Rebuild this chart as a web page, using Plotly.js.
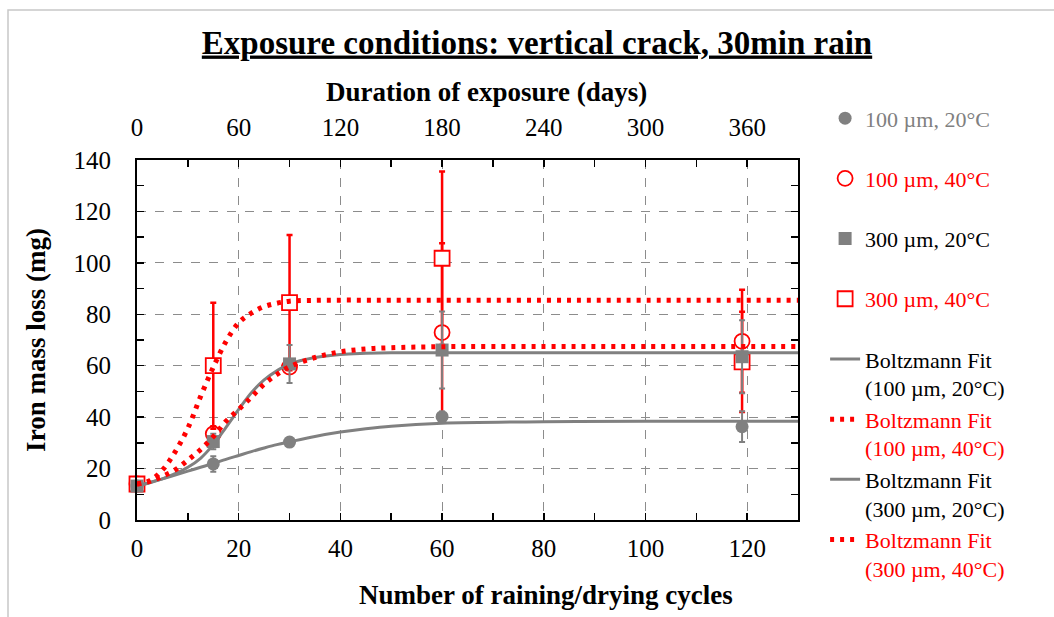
<!DOCTYPE html>
<html>
<head>
<meta charset="utf-8">
<script src="https://cdn.plot.ly/plotly-3.0.1.min.js"></script>
<style>html,body{margin:0;padding:0;background:#fff;}#chart{width:1054px;height:617px;}</style>
</head>
<body>
<div id="chart"></div>
<script>
// ---- data ----
const cycles = [0, 15, 30, 60, 119];
const DAYS_PER_CYCLE = 3;

const m100_20 = [13.2, 21.8, 30.3, 40.2, 36.3];
const e100_20 = [1.0, 3.0, 1.5, 2.0, 6.0];
const m100_40 = [14.0, 33.5, 59.5, 72.9, 69.5];
const e100_40 = [1.0, 3.0, 2.0, 34.7, 20.0];
const m300_20 = [13.2, 30.5, 60.7, 66.1, 63.5];
const e300_20 = [1.0, 3.0, 7.4, 15.0, 14.2];
const m300_40 = [14.0, 60.0, 84.5, 101.8, 61.5];
const e300_40 = [1.0, 24.5, 26.3, 33.7, 19.5];

// Boltzmann fit curves, values at these cycle numbers
const fitX      = [0, 2.5, 5, 7.5, 10, 12.5, 15, 17.5, 20, 22.5, 25, 27.5, 30, 35, 40, 45, 50, 60, 80, 100, 130];
const fit100_20 = [13.3, 14.6, 16.0, 17.5, 19.0, 20.5, 22.0, 23.6, 25.1, 26.6, 28.0, 29.3, 30.4, 32.5, 34.2, 35.5, 36.5, 37.6, 38.2, 38.4, 38.4];
const fit100_40 = [14.0, 15.0, 17.0, 19.5, 23.3, 27.4, 32.4, 38.4, 43.0, 47.8, 52.8, 56.6, 59.6, 63.2, 65.4, 66.5, 67.0, 67.4, 67.5, 67.5, 67.5];
const fit300_20 = [13.3, 14.5, 16.0, 18.0, 20.5, 24.0, 29.3, 36.0, 43.0, 49.5, 54.5, 58.0, 60.7, 63.2, 64.4, 64.8, 65.0, 65.0, 65.0, 65.0, 65.0];
const fit300_40 = [14.0, 15.3, 19.4, 26.5, 35.7, 48.0, 59.4, 69.4, 76.7, 80.5, 83.0, 84.3, 85.1, 85.4, 85.5, 85.5, 85.5, 85.5, 85.5, 85.5, 85.5];

const names = {
  m100_20: '<span style="color:#808080">100 µm, 20°C</span><br> ',
  m100_40: '<span style="color:#ff0000">100 µm, 40°C</span><br> ',
  m300_20: '300 µm, 20°C<br> ',
  m300_40: '<span style="color:#ff0000">300 µm, 40°C</span><br> ',
  f100_20: 'Boltzmann Fit<br>(100 µm, 20°C)',
  f100_40: '<span style="color:#ff0000">Boltzmann Fit</span><br><span style="color:#ff0000">(100 µm, 40°C)</span>',
  f300_20: 'Boltzmann Fit<br>(300 µm, 20°C)',
  f300_40: '<span style="color:#ff0000">Boltzmann Fit</span><br><span style="color:#ff0000">(300 µm, 40°C)</span>'
};

const titles = {
  main: '<b><u>Exposure conditions: vertical crack, 30min rain</u></b>',
  xBottom: '<b>Number of raining/drying cycles</b>',
  xTop: '<b>Duration of exposure (days)</b>',
  y: '<b>Iron mass loss (mg)</b>'
};

// ---- styles ----
const GRAY = '#808080', RED = '#ff0000';
const FONT = 'Liberation Serif, Times New Roman, serif';

function markerTrace(y, err, name, rank, sym, color, fill, lineW, size, errColor, errThick) {
  return {
    x: cycles, y: y, name: name, legendrank: rank, type: 'scatter', mode: 'markers',
    cliponaxis: false,
    marker: {symbol: sym, size: size, color: fill, line: {color: color, width: lineW}},
    error_y: {type: 'data', array: err, visible: true, color: errColor, thickness: errThick, width: 3},
    hoverinfo: 'x+y'
  };
}
function fitTrace(y, name, rank, color, width, dash) {
  return {
    x: fitX, y: y, name: name, legendrank: rank, type: 'scatter', mode: 'lines',
    line: {color: color, width: width, dash: dash, shape: 'spline', smoothing: 1},
    hoverinfo: 'x+y'
  };
}

const traces = [
  markerTrace(m100_40, e100_40, names.m100_40, 2, 'circle', RED, '#ffffff', 1.8, 15, RED, 2.5),
  markerTrace(m300_40, e300_40, names.m300_40, 4, 'square', RED, '#ffffff', 1.8, 15, RED, 2.5),
  markerTrace(m100_20, e100_20, names.m100_20, 1, 'circle', GRAY, GRAY, 0, 13, GRAY, 2),
  markerTrace(m300_20, e300_20, names.m300_20, 3, 'square', GRAY, GRAY, 0, 13, GRAY, 2),
  fitTrace(fit100_20, names.f100_20, 5, GRAY, 3, 'solid'),
  fitTrace(fit300_20, names.f300_20, 7, GRAY, 3, 'solid'),
  fitTrace(fit100_40, names.f100_40, 6, RED, 5, '4px,6px'),
  fitTrace(fit300_40, names.f300_40, 8, RED, 5, '4px,6px'),
  // invisible trace that carries the top (days) axis
  {x: cycles.map(c => c * DAYS_PER_CYCLE), y: m100_20, xaxis: 'x2', yaxis: 'y', mode: 'markers',
   marker: {opacity: 0}, showlegend: false, hoverinfo: 'skip'}
];

const axisCommon = {
  showline: true, linecolor: '#000', linewidth: 2,
  tickfont: {family: FONT, size: 25, color: '#000'},
  zeroline: false
};
const titleFont = {family: FONT, size: 27, color: '#000'};

const layout = {
  width: 1054, height: 617,
  paper_bgcolor: '#fff', plot_bgcolor: '#fff',
  margin: {l: 137, r: 256, t: 160, b: 97},
  font: {family: FONT, color: '#000'},
  title: {
    text: titles.main,
    font: {family: FONT, size: 33, color: '#000'},
    x: 0.5095, xanchor: 'center', xref: 'container',
    y: 1 - 42 / 617, yanchor: 'middle', yref: 'container'
  },
  xaxis: Object.assign({}, axisCommon, {
    range: [0, 130], dtick: 20, tick0: 0,
    ticks: 'inside', ticklen: 7, tickwidth: 1.5, tickcolor: '#000',
    minor: {dtick: 10, ticks: 'inside', ticklen: 7, tickwidth: 1.5, tickcolor: '#000', showgrid: false},
    mirror: 'ticks',
    showgrid: true, gridcolor: '#8c8c8c', gridwidth: 1, griddash: 'dash',
    ticklabelstandoff: 5
  }),
  xaxis2: Object.assign({}, axisCommon, {
    overlaying: 'x', side: 'top', anchor: 'y',
    range: [0, 390], dtick: 60, tick0: 0,
    ticks: '', showgrid: false, showline: false,
    ticklabelstandoff: 18
  }),
  yaxis: Object.assign({}, axisCommon, {
    range: [0, 140], dtick: 20, tick0: 0,
    ticks: 'inside', ticklen: 7, tickwidth: 1.5, tickcolor: '#000',
    minor: {dtick: 10, ticks: 'inside', ticklen: 7, tickwidth: 1.5, tickcolor: '#000', showgrid: false},
    mirror: 'ticks',
    showgrid: true, gridcolor: '#8c8c8c', gridwidth: 1, griddash: 'dash',
    ticklabelstandoff: 19,
    title: {text: titles.y, font: titleFont, standoff: 20}
  }),
  annotations: [
    {text: titles.xBottom, xref: 'paper', yref: 'paper', x: (546 - 137) / 661, y: (520 - 595) / 360,
     xanchor: 'center', yanchor: 'middle', showarrow: false, font: titleFont},
    {text: titles.xTop, xref: 'paper', yref: 'paper', x: (486 - 137) / 661, y: (520 - 92) / 360,
     xanchor: 'center', yanchor: 'middle', showarrow: false, font: titleFont}
  ],
  legend: {
    x: 1.041, xanchor: 'left', y: 1.174, yanchor: 'top',
    font: {family: FONT, size: 22, color: '#000'},
    bgcolor: 'rgba(0,0,0,0)', borderwidth: 0,
    valign: 'top', tracegroupgap: 0, traceorder: 'normal',
    maxheight: 600
  },
  shapes: [
    {type: 'rect', xref: 'paper', yref: 'paper',
     x0: (8 - 137) / 661, x1: 1.6, y0: -0.6, y1: (520 - 10) / 360,
     line: {color: '#c8c8c8', width: 1.5}, fillcolor: 'rgba(0,0,0,0)', layer: 'below'}
  ],
  showlegend: true
};

Plotly.newPlot('chart', traces, layout, {displayModeBar: false, staticPlot: true});
</script>
</body>
</html>
